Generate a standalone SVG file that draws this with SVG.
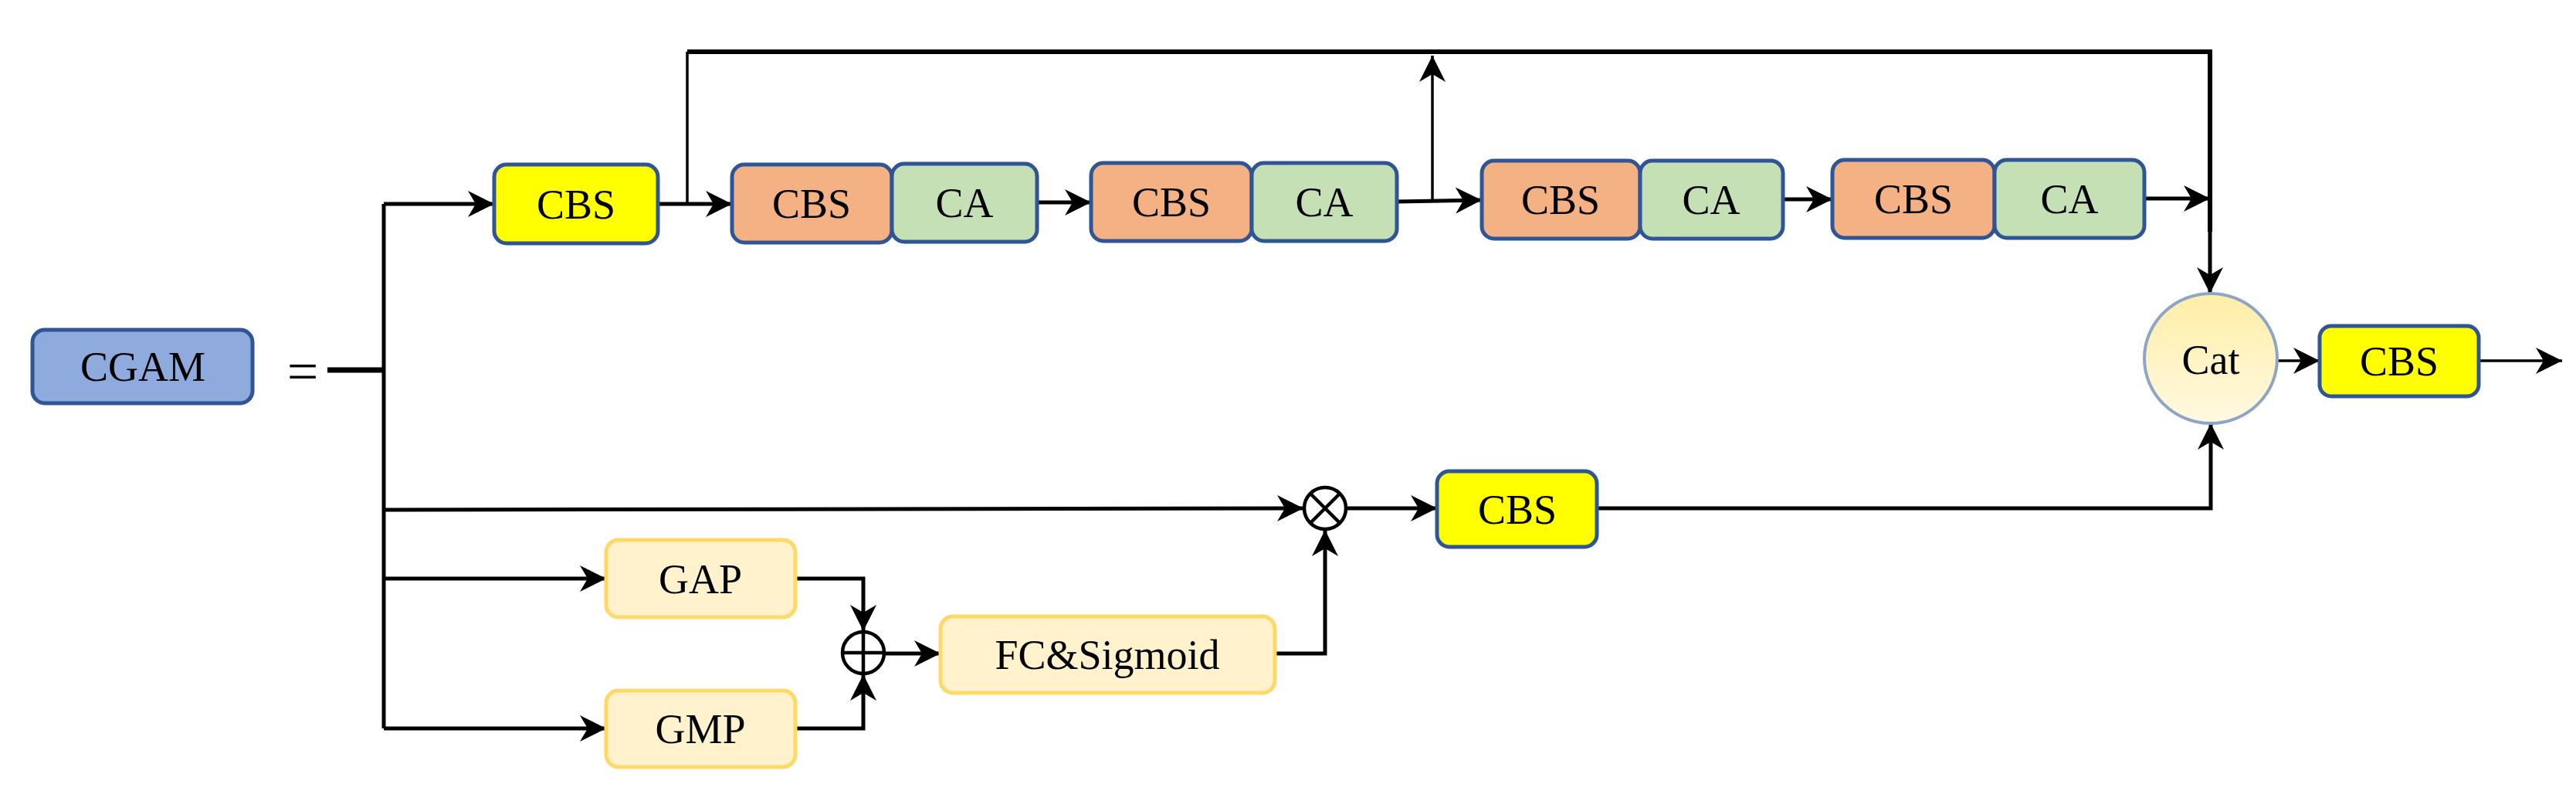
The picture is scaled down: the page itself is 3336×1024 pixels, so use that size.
<svg xmlns="http://www.w3.org/2000/svg" width="3336" height="1024" viewBox="0 0 3336 1024">
<style>
text{font-family:"Liberation Serif","Times New Roman",serif;font-size:54px;fill:#000;text-anchor:middle}
.blue{stroke:#2F5597;stroke-width:5}
.cgam{fill:#8FAADC}
.cbs{fill:#FFFF00}
.org{fill:#F4B183}
.grn{fill:#C5E0B4}
.lt{fill:#FFF2CC;stroke:#FFD966;stroke-width:5}
.ln{fill:none;stroke:#000;stroke-width:5}
.th{fill:none;stroke:#000;stroke-width:3.5}
.arr{marker-end:url(#ah)}
.op{fill:#fff;stroke:#000;stroke-width:4.5}
</style>
<defs>
<marker id="ah" markerUnits="userSpaceOnUse" markerWidth="40" markerHeight="40" viewBox="-36 -20 40 40" refX="0" refY="0" orient="auto">
<path d="M0,0 L-34,-17 L-24,0 L-34,17 Z" fill="#000"/>
</marker>
<linearGradient id="catg" x1="0" y1="0" x2="0" y2="1">
<stop offset="0" stop-color="#FFEEA6"/>
<stop offset="1" stop-color="#FFF9E2"/>
</linearGradient>
</defs>
<rect width="3336" height="1024" fill="#fff"/>

<g id="connectors">
<line x1="424" y1="479" x2="497" y2="479" stroke="#000" stroke-width="7"/>
<path class="ln" d="M497,943 L497,264"/>
<path class="ln arr" d="M497,264 L640,264"/>
<path class="ln arr" d="M852,264 L948,264"/>
<path class="th" d="M890,264 L890,67"/>
<path class="ln" d="M890,67 L2862,67 L2862,300" style="stroke-width:6"/>
<path class="ln arr" d="M2862,300 L2862,380"/>
<path class="ln arr" d="M1343,262 L1413,262"/>
<path class="ln arr" d="M1809,261 L1919,259"/>
<path class="th arr" d="M1855,261 L1855,72"/>
<path class="ln arr" d="M2309,258 L2373,258"/>
<path class="ln arr" d="M2777,257 L2862,257"/>
<path class="ln arr" d="M497,660 L1688,658"/>
<path class="ln arr" d="M497,749 L785,749"/>
<path class="ln arr" d="M497,943 L785,943"/>
<path class="ln arr" d="M1030,749 L1118,749 L1118,817"/>
<path class="ln arr" d="M1030,943 L1118,943 L1118,873"/>
<path class="ln arr" d="M1146,846 L1218,846"/>
<path class="ln arr" d="M1651,846 L1716,846 L1716,686"/>
<path class="ln arr" d="M1744,658 L1861,658"/>
<path class="ln arr" d="M2068,658 L2863,658 L2863,548"/>
<path class="th arr" d="M2948,467 L3004,467"/>
<path class="th arr" d="M3210,467 L3318,467"/>
</g>

<g id="node-cgam">
<rect class="cgam blue" x="42" y="427" width="285" height="95" rx="16"/>
<text x="185" y="493">CGAM</text>
</g>
<g id="equals">
<text x="392" y="505" style="font-size:72px">=</text>
</g>

<g id="node-cbs1">
<rect class="cbs blue" x="640" y="213" width="212" height="102" rx="16"/>
<text x="746" y="283">CBS</text>
</g>

<g id="node-cbs-a1">
<rect class="org blue" x="948" y="213" width="207" height="101" rx="16"/>
<text x="1051" y="282">CBS</text>
</g>
<g id="node-ca-a1">
<rect class="grn blue" x="1155" y="212" width="188" height="101" rx="16"/>
<text x="1249" y="281">CA</text>
</g>

<g id="node-cbs-a2">
<rect class="org blue" x="1413" y="211" width="208" height="101" rx="16"/>
<text x="1517" y="280">CBS</text>
</g>
<g id="node-ca-a2">
<rect class="grn blue" x="1621" y="211" width="188" height="101" rx="16"/>
<text x="1715" y="280">CA</text>
</g>

<g id="node-cbs-a3">
<rect class="org blue" x="1919" y="208" width="205" height="101" rx="16"/>
<text x="2021" y="277">CBS</text>
</g>
<g id="node-ca-a3">
<rect class="grn blue" x="2124" y="208" width="185" height="101" rx="16"/>
<text x="2216" y="277">CA</text>
</g>

<g id="node-cbs-a4">
<rect class="org blue" x="2373" y="207" width="210" height="101" rx="16"/>
<text x="2478" y="276">CBS</text>
</g>
<g id="node-ca-a4">
<rect class="grn blue" x="2583" y="207" width="194" height="101" rx="16"/>
<text x="2680" y="276">CA</text>
</g>

<g id="node-cat">
<ellipse cx="2863" cy="464" rx="86" ry="84" fill="url(#catg)" stroke="#8EA5C8" stroke-width="4"/>
<text x="2863" y="484">Cat</text>
</g>

<g id="node-cbs-out">
<rect class="cbs blue" x="3004" y="422" width="206" height="91" rx="15"/>
<text x="3107" y="486">CBS</text>
</g>

<g id="node-gap">
<rect class="lt" x="785" y="699" width="245" height="100" rx="16"/>
<text x="907" y="768">GAP</text>
</g>
<g id="node-gmp">
<rect class="lt" x="785" y="894" width="245" height="99" rx="16"/>
<text x="907" y="962">GMP</text>
</g>

<g id="node-add">
<circle class="op" cx="1118" cy="845" r="27"/>
<path d="M1091,845 L1145,845 M1118,818 L1118,872" stroke="#000" stroke-width="4.5"/>
</g>

<g id="node-fc">
<rect class="lt" x="1218" y="798" width="433" height="99" rx="16"/>
<text x="1434" y="866">FC&amp;Sigmoid</text>
</g>

<g id="node-mul">
<circle class="op" cx="1716" cy="658" r="27"/>
<path d="M1697,639 L1735,677 M1735,639 L1697,677" stroke="#000" stroke-width="4.5"/>
</g>

<g id="node-cbs2">
<rect class="cbs blue" x="1861" y="610" width="207" height="98" rx="16"/>
<text x="1965" y="678">CBS</text>
</g>
</svg>
